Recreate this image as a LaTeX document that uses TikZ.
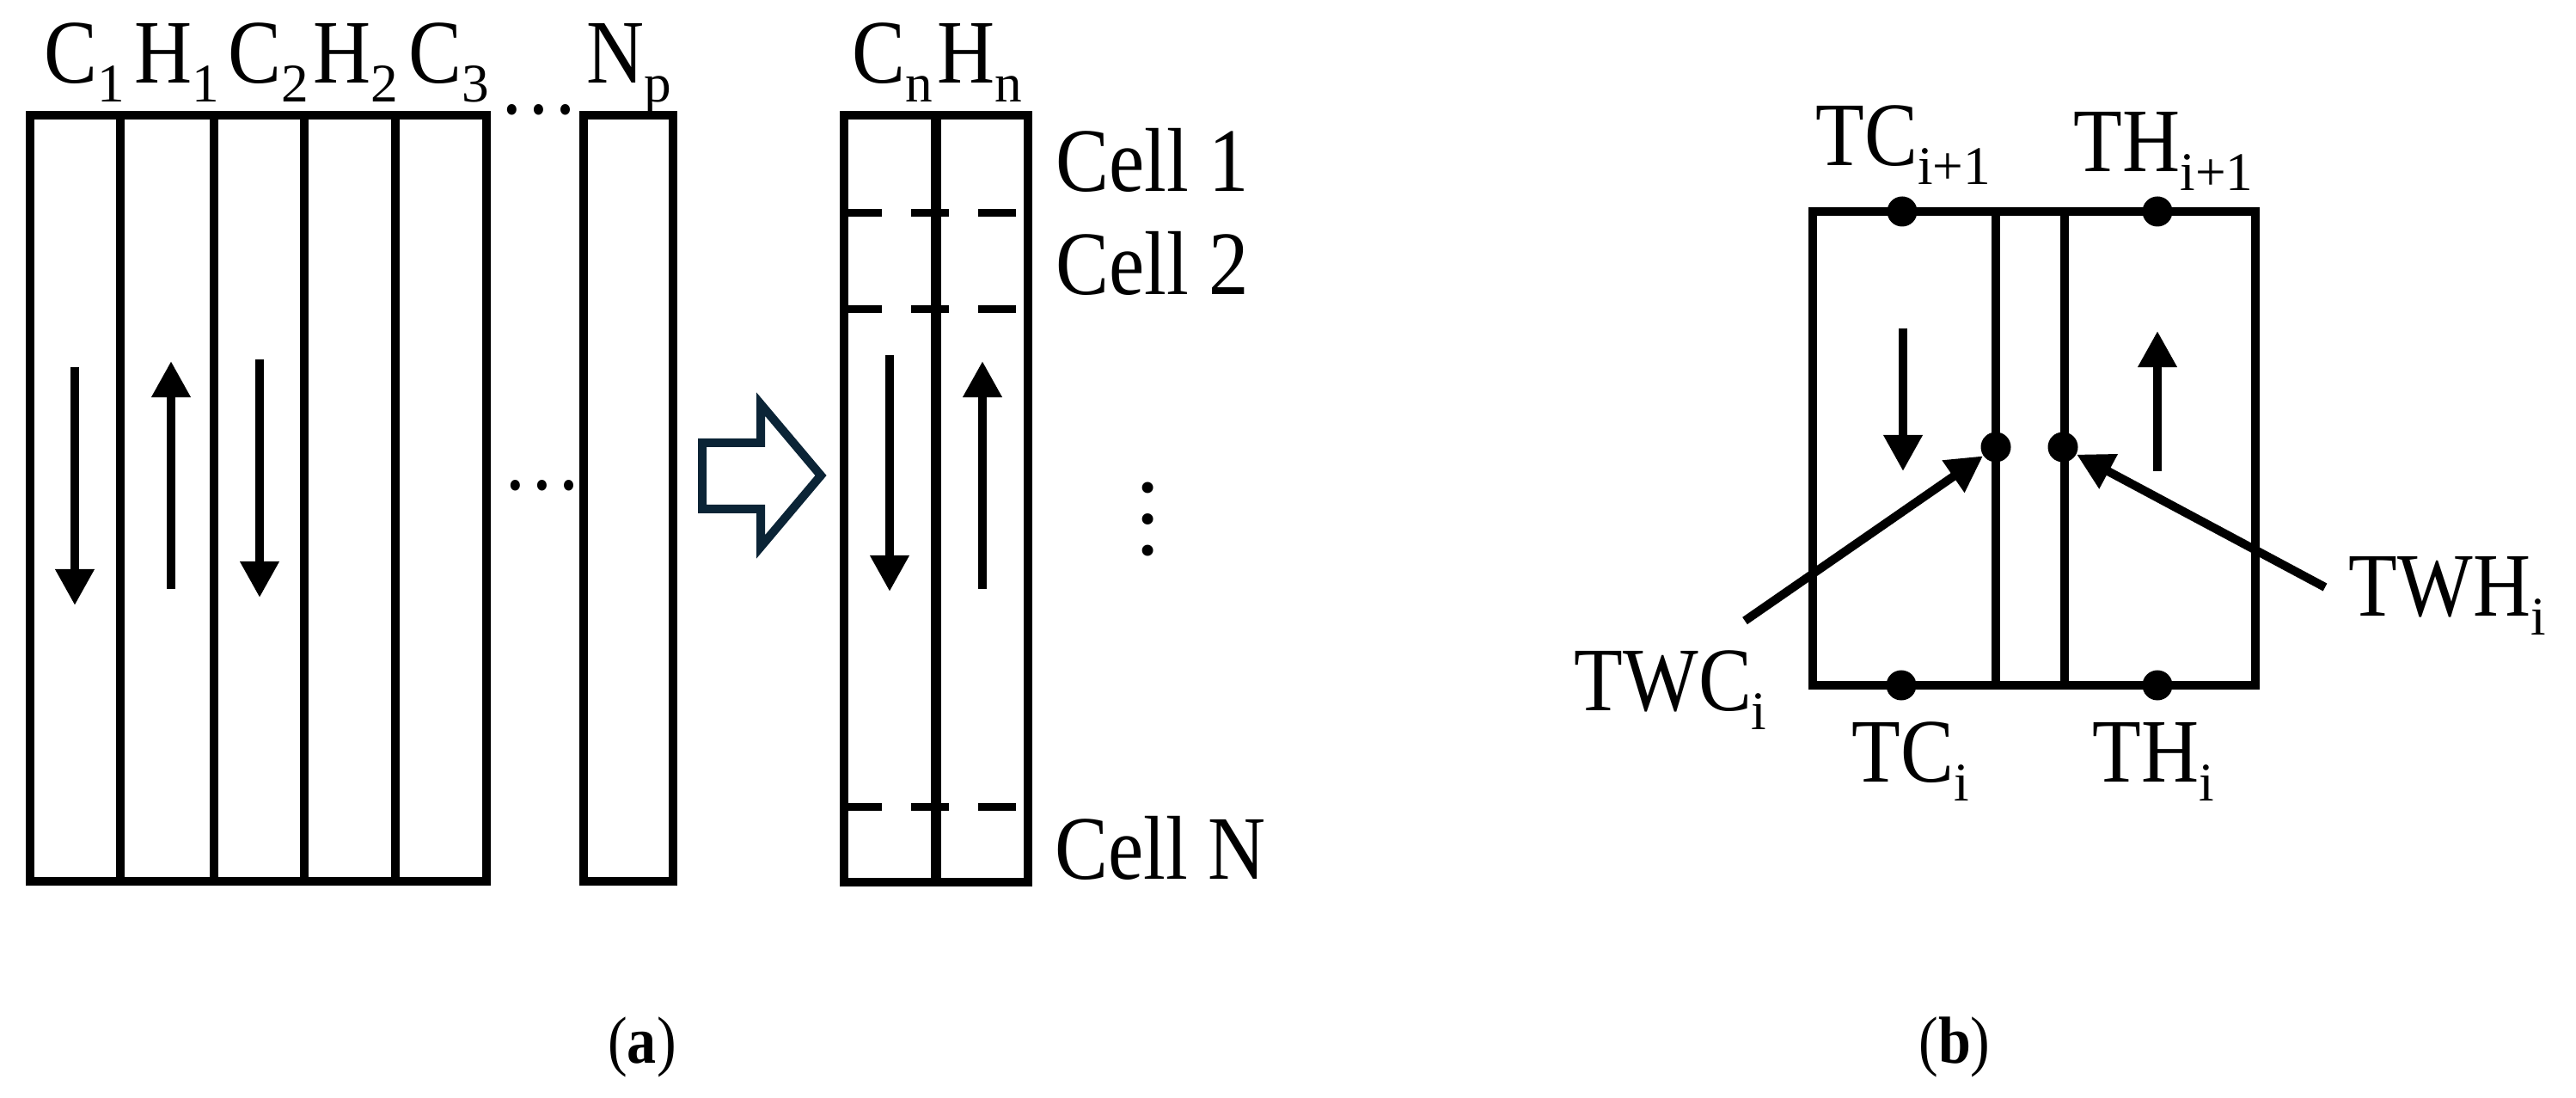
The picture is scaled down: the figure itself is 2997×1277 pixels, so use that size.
\documentclass[tikz,border=0pt]{standalone}
\usepackage{fontspec}
\setmainfont{Liberation Serif}[FakeStretch=0.88]
\newfontfamily\subfont{Liberation Serif}
\usetikzlibrary{arrows.meta}
\definecolor{navy}{HTML}{0B2436}
\newcommand{\subs}[1]{\raisebox{-6pt}{\subfont\fontsize{18pt}{18pt}\selectfont #1}}
\begin{document}
\begin{tikzpicture}[x=0.01cm,y=-0.01cm,
  wall/.style={line width=0.1cm, line join=miter},
  midwall/.style={line width=0.12cm},
  dashseg/.style={line width=0.09cm},
  flow/.style={line width=0.1cm, -{Triangle[length=0.42cm,width=0.43cm]}},
  lbl/.style={inner sep=0, anchor=base west, font=\fontsize{30pt}{36pt}\selectfont},
  captxt/.style={inner sep=0, anchor=base, font=\fontsize{22pt}{26pt}\selectfont},
  dotn/.style={circle, fill, inner sep=0, minimum size=0.35cm},
  hollow/.style={draw=navy, line width=0.1cm, line join=miter}]
\useasboundingbox (0,0) rectangle (2997,1277);

% ---------- panel (a): channel block ----------
\draw[wall] (35,134) rectangle (566,1025);
\foreach \x in {140,249,354,460} \draw[wall] (\x,134) -- (\x,1025);
\draw[wall] (679,134) rectangle (783,1025);

\node[lbl] (lc1) at (51,97) {C\subs{1}};
\node[lbl] (lh1) at (156,97) {H\subs{1}};
\node[lbl] (lc2) at (265,97) {C\subs{2}};
\node[lbl] (lh2) at (364,97) {H\subs{2}};
\node[lbl] (lc3) at (475,97) {C\subs{3}};
\node[lbl] (ldots1) at (580,133) {…};
\node[lbl] (lnp) at (682,97) {N\subs{p}};
\node[lbl] (ldots2) at (584,570) {…};

\coordinate (a1s) at (87,427);  \coordinate (a1e) at (87,704);
\coordinate (a2s) at (199,685); \coordinate (a2e) at (199,420);
\coordinate (a3s) at (302,418); \coordinate (a3e) at (302,695);
\draw[flow] (a1s) -- (a1e);
\draw[flow] (a2s) -- (a2e);
\draw[flow] (a3s) -- (a3e);

% hollow arrow
\draw[hollow] (817,515) -- (885,515) -- (885,470) -- (955,553) -- (885,636) -- (885,592) -- (817,592) -- cycle;

% ---------- panel (a): single channel pair ----------
\draw[wall] (982,134) rectangle (1196,1026);
\draw[midwall] (1089,134) -- (1089,1026);
\foreach \y in {248,360,939} {
  \draw[dashseg] (982,\y) -- (1026,\y);
  \draw[dashseg] (1060,\y) -- (1104,\y);
  \draw[dashseg] (1138,\y) -- (1182,\y);
}
\node[lbl] (lcn) at (991,97) {C\subs{n}};
\node[lbl] (lhn) at (1090,97) {H\subs{n}};
\node[lbl] (cell1) at (1228,223) {Cell 1};
\node[lbl] (cell2) at (1228,343) {Cell 2};
\node[lbl] (celln) at (1227,1023) {Cell N};
\node[inner sep=0, rotate=90, font=\subfont\fontsize{31pt}{36pt}\selectfont] (vdots) at (1336,604) {…};

\coordinate (b1s) at (1035,413); \coordinate (b1e) at (1035,688);
\coordinate (b2s) at (1143,685); \coordinate (b2e) at (1143,420);
\draw[flow] (b1s) -- (b1e);
\draw[flow] (b2s) -- (b2e);

\node[captxt] (capa) at (747,1237) {(\textbf{a})};

% ---------- panel (b) ----------
\draw[wall] (2109,246) rectangle (2624,797);
\draw[wall] (2322,246) -- (2322,797);
\draw[wall] (2402,246) -- (2402,797);

\node[dotn] (dtc1) at (2213,246) {};
\node[dotn] (dth1) at (2510,246) {};
\node[dotn] (dtc) at (2212,797) {};
\node[dotn] (dth) at (2510,797) {};
\node[dotn] (dwl) at (2322,520) {};
\node[dotn] (dwr) at (2400,520) {};

\coordinate (c1s) at (2214,382); \coordinate (c1e) at (2214,548);
\coordinate (c2s) at (2510,548); \coordinate (c2e) at (2510,385);
\draw[flow] (c1s) -- (c1e);
\draw[flow] (c2s) -- (c2e);

\coordinate (twcs) at (2030,722);
\coordinate (twhs) at (2705,683);
\draw[flow] (twcs) -- (dwl);
\draw[flow] (twhs) -- (dwr);

\node[lbl] (ltc1) at (2112,193) {TC\subs{i+1}};
\node[lbl] (lth1) at (2412,200) {TH\subs{i+1}};
\node[lbl] (ltwc) at (1831,827) {TWC\subs{i}};
\node[lbl] (ltwh) at (2732,717) {TWH\subs{i}};
\node[lbl] (ltc) at (2154,910) {TC\subs{i}};
\node[lbl] (lth) at (2434,910) {TH\subs{i}};

\node[captxt] (capb) at (2274,1237) {(\textbf{b})};
\end{tikzpicture}
\end{document}
